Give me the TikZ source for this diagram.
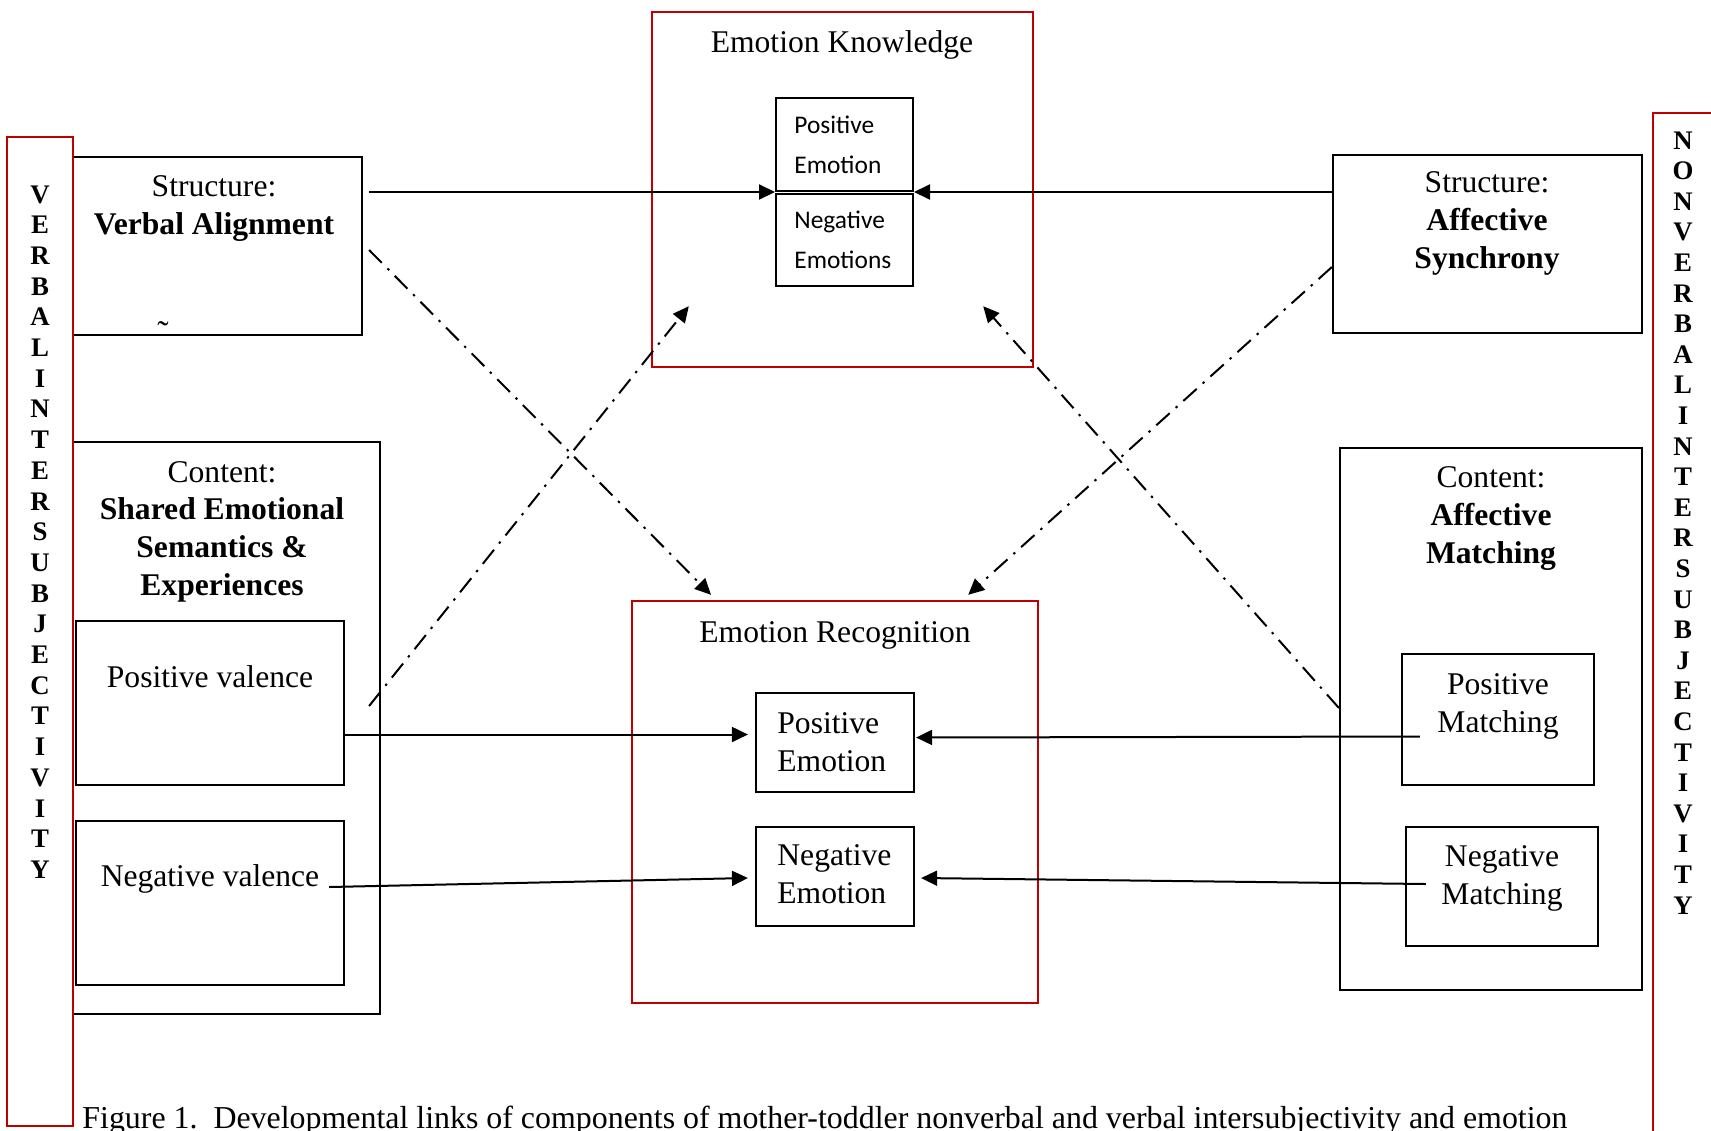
\documentclass[tikz,border=0pt]{standalone}
\usepackage{fontspec}
\setmainfont{Liberation Serif}
\newfontfamily\calibri{Carlito}
\usetikzlibrary{arrows.meta, fit}

\definecolor{framered}{RGB}{192,0,0}

\begin{document}
\begin{tikzpicture}
  [
    x=0.5pt, y=-0.5pt,
    box/.style={draw=black, line width=1.1pt, inner sep=0pt},
    redbox/.style={draw=framered, line width=1.2pt, inner sep=0pt},
    sidebox/.style={draw=framered, line width=0.9pt, inner sep=0pt},
    txt/.style={anchor=base, align=center, inner sep=0pt, font=\fontsize{15.8}{18.8}\selectfont},
    ltxt/.style={txt, align=left, anchor=base west},
    cal/.style={anchor=base west, align=left, inner sep=0pt, font=\calibri\fontsize{12.7}{19.6}\selectfont},
    letter/.style={anchor=base, inner sep=0pt, font=\fontsize{13.4}{16}\selectfont\bfseries},
    arr/.style={-{Triangle[length=8pt,width=7.5pt]}, line width=1pt},
    dd/.style={arr, dash pattern=on 9pt off 4pt on 1.2pt off 4pt}
  ]
  \useasboundingbox (0,0) rectangle (1711,1130);
  \clip (0,0) rectangle (1711,1130);
  % verbal side
  \node[box, fit={(73,157) (362,335)}] (va) {};
  \node[box, fit={(73,442) (380,1014)}] (cl) {};
  \node[box, fit={(76,621) (344,785)}] (pv) {};
  \node[box, fit={(76,821) (344,985)}] (nv) {};
  % nonverbal side
  \node[box, fit={(1333,155) (1642,333)}] (as) {};
  \node[box, fit={(1340,448) (1642,990)}] (cr) {};
  \node[box, fit={(1402,654) (1594,785)}] (pm) {};
  \node[box, fit={(1406,827) (1598,946)}] (nm) {};
  % emotion knowledge
  \node[redbox, fit={(652,12) (1033,367)}] (ek) {};
  \node[box, line width=1pt, fit={(776,98) (913,191)}] (ekp) {};
  \node[box, line width=1pt, fit={(776,194) (913,286)}] (ekn) {};
  % emotion recognition
  \node[redbox, fit={(632,601) (1038,1003)}] (er) {};
  \node[box, fit={(756,693) (914,792)}] (erp) {};
  \node[box, fit={(756,827) (914,926)}] (ern) {};
  % intersubjectivity frames
  \node[sidebox, fit={(7,137) (73,1126)}] (verbal) {};
  \node[sidebox, fit={(1653,113) (1740,1160)}] (nonverbal) {};
  \foreach \c [count=\i] in {V,E,R,B,A,L,I,N,T,E,R,S,U,B,J,E,C,T,I,V,I,T,Y} {
      \node[letter] (vl\i) at (40,{203+30.7*(\i-1)}) {\c};
  }
  \foreach \c [count=\i] in {N,O,N,V,E,R,B,A,L,I,N,T,E,R,S,U,B,J,E,C,T,I,V,I,T,Y} {
      \node[letter] (nl\i) at (1683,{149+30.6*(\i-1)}) {\c};
  }
  % labels (base = last line)
  \node[txt] (vatxt) at (214,234) {Structure:\\\textbf{Verbal Alignment}};
  \node[inner sep=0pt, font=\fontsize{17}{17}\selectfont] (tilde) at (163,333) {\char"02DC};
  \node[txt] (cltxt) at (222,595) {Content:\\\textbf{Shared Emotional}\\\textbf{Semantics \&}\\\textbf{Experiences}};
  \node[txt] (pvtxt) at (210,687) {Positive valence};
  \node[txt] (nvtxt) at (210,886) {Negative valence};
  \node[txt] (astxt) at (1487,268) {Structure:\\\textbf{Affective}\\\textbf{Synchrony}};
  \node[txt] (crtxt) at (1491,563) {Content:\\\textbf{Affective}\\\textbf{Matching}};
  \node[txt] (pmtxt) at (1498,732) {Positive\\Matching};
  \node[txt] (nmtxt) at (1502,904) {Negative\\Matching};
  \node[txt] (ektitle) at (842,52) {Emotion Knowledge};
  \node[cal] (ekptxt) at (794,173) {Positive\\Emotion};
  \node[cal] (ekntxt) at (794,268) {Negative\\Emotions};
  \node[txt] (ertitle) at (835,642) {Emotion Recognition};
  \node[ltxt] (erptxt) at (777,771) {Positive\\Emotion};
  \node[ltxt] (erntxt) at (777,903) {Negative\\Emotion};
  \node[txt, anchor=base west, font=\fontsize{15.95}{18}\selectfont] (caption) at (82,1128)
    {Figure 1.\ \ Developmental links of components of mother-toddler nonverbal and verbal intersubjectivity and emotion};
  % structure links
  \draw[arr, shorten <=3pt] (va.east |- ekp.south west) -- (ekp.south west);
  \draw[arr] (as.west |- ekp.south east) -- (ekp.south east);
  % content links
  \coordinate (erpin) at ([yshift=4pt]erp.west);
  \draw[arr, shorten >=3.5pt] (pv.east |- erpin) -- (erpin);
  \draw[arr] ([shift={(19,17)}]pm.west) -- ([shift={(1,-5)}]erp.east);
  \draw[arr] ([shift={(-16,-16)}]nv.east) -- ([shift={(-7,1.5)}]ern.west);
  \draw[arr] ([shift={(21,-2.5)}]nm.west) -- ([shift={(6,1.5)}]ern.east);
  % cross links
  \draw[dd] ([shift={(6,4)}]va.east) -- ([shift={(-124,-5)}]er.north);
  \draw[dd] ([shift={(24,3)}]pv.east) -- ([shift={(38,-62)}]ek.south west);
  \draw[dd] ([shift={(0,23)}]as.west) -- ([shift={(-71,-5)}]er.north east);
  \draw[dd] ([shift={(0,-11)}]cr.west) -- ([shift={(-51,-62)}]ek.south east);
\end{tikzpicture}
\end{document}
